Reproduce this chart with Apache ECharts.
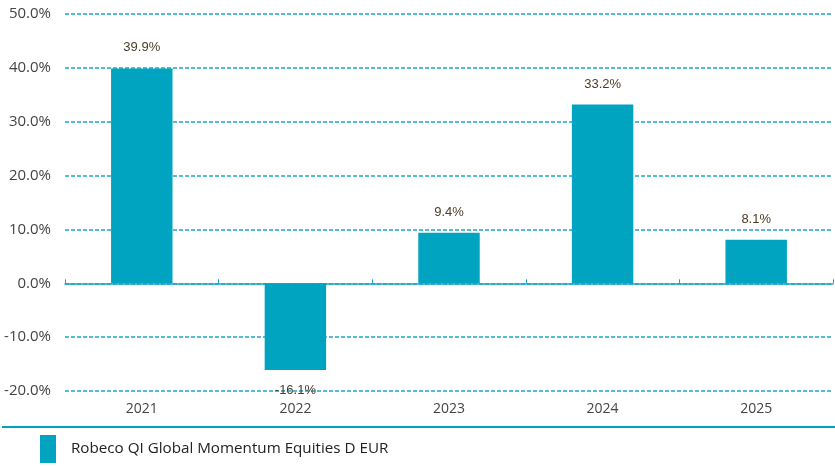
<!DOCTYPE html>
<html>
<head>
<meta charset="utf-8">
<style>html,body{margin:0;padding:0;background:#fff}#c{width:835px;height:466px}</style>
<script src="https://cdn.jsdelivr.net/npm/echarts@6/dist/echarts.min.js"></script>
</head>
<body>
<div id="c"></div>
<script>
const categories = ['2021', '2022', '2023', '2024', '2025'];
const values = [39.9, -16.1, 9.4, 33.2, 8.1];
const seriesName = 'Robeco QI Global Momentum Equities D EUR';
const yTicks = { min: -20, max: 50, interval: 10 };

const chart = echarts.init(document.getElementById('c'));
chart.setOption({
  animation: false,
  grid: { left: 65, right: 2, top: 14, bottom: 75 },
  legend: {
    data: [seriesName], left: 40, top: 435, padding: 0, icon: 'rect', itemWidth: 16, itemHeight: 28,
    itemGap: 0, textStyle: { fontFamily: 'Open Sans', fontSize: 15.2, color: '#222', padding: [0, 0, 0, 10] }
  },
  graphic: [{
    type: 'line', shape: { x1: 2, y1: 427, x2: 835, y2: 427 },
    style: { stroke: '#00a3c0', lineWidth: 2 }
  }],
  xAxis: [{
    type: 'category', data: categories, position: 'bottom',
    axisLine: { show: false, onZero: false }, axisTick: { show: false },
    axisLabel: { fontFamily: 'Open Sans', fontSize: 14, color: '#444', margin: 11 }
  }, {
    type: 'category', data: categories,
    axisLine: { show: true, onZero: true, lineStyle: { color: '#1aa6c4', width: 1.5 } },
    axisTick: { show: true, length: 4, lineStyle: { color: '#1aa6c4' } },
    axisLabel: { show: false }
  }],
  yAxis: {
    type: 'value', min: yTicks.min, max: yTicks.max, interval: yTicks.interval,
    axisLine: { show: false }, axisTick: { show: false },
    axisLabel: { formatter: v => v.toFixed(1) + '%', fontFamily: 'Open Sans', fontSize: 15, color: '#444', margin: 14 },
    splitLine: { lineStyle: { type: [4, 2], color: '#1ea6c6', width: 1.5 } }
  },
  series: [{
    name: seriesName, type: 'bar', xAxisIndex: 0, barWidth: '40%',
    data: values.map(v => ({ value: v, label: { position: v < 0 ? 'bottom' : 'top' } })),
    itemStyle: { color: '#00a3c0' },
    label: {
      show: true, formatter: p => p.value.toFixed(1) + '%',
      fontFamily: 'Arial', fontSize: 13, color: '#4a3c28', distance: 14
    }
  }]
});
</script>
</body>
</html>
